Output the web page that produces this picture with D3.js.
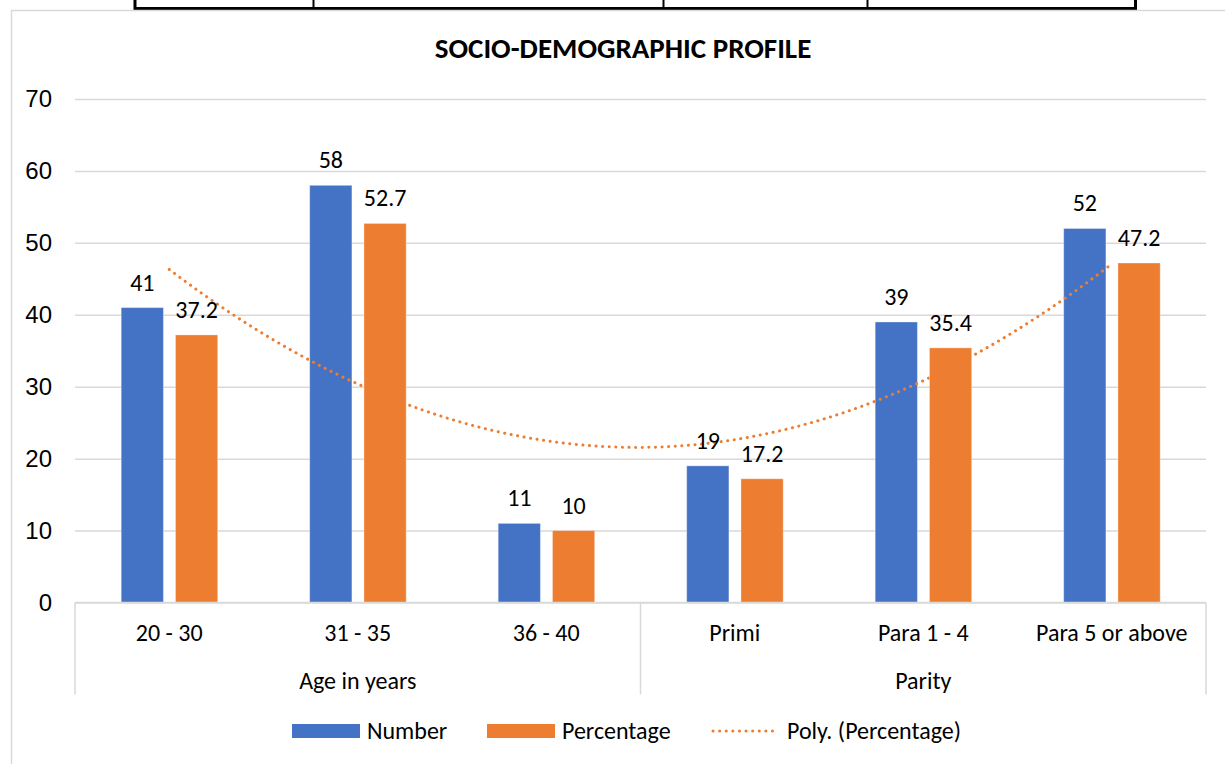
<!DOCTYPE html>
<html>
<head>
<meta charset="utf-8">
<script src="https://cdn.jsdelivr.net/npm/d3@7"></script>
<style>
  body { margin: 0; background: #fff; }
  svg { display: block; font-family: Carlito, Lato, "Open Sans", sans-serif; }
</style>
</head>
<body>
<div id="chart"></div>
<script>
var title = "SOCIO-DEMOGRAPHIC PROFILE";
var categories = ["20 - 30", "31 - 35", "36 - 40", "Primi", "Para 1 - 4", "Para 5 or above"];
var groups = [{name: "Age in years", size: 3}, {name: "Parity", size: 3}];
var seriesNames = ["Number", "Percentage"];
var numberValues = [41, 58, 11, 19, 39, 52];
var percentValues = [37.2, 52.7, 10, 17.2, 35.4, 47.2];
var yTicks = [0, 10, 20, 30, 40, 50, 60, 70];
var colors = {Number: "#4472c4", Percentage: "#ed7d31"};

var width = 1225, height = 764;
var margin = {top: 99, right: 19, bottom: 161, left: 75};
var fs = 24;

var svg = d3.select("#chart").append("svg")
    .attr("width", width)
    .attr("height", height);

// document table border peeking above the chart
var tbl = svg.append("g").attr("stroke", "#000").attr("fill", "none");
tbl.append("path").attr("d", "M135,0V8.5H1135.5V0").attr("stroke-width", 3);
[313.5, 663.5, 867.5].forEach(x => tbl.append("line")
    .attr("x1", x).attr("x2", x).attr("y1", 0).attr("y2", 8).attr("stroke-width", 2));

// chart area frame
svg.append("path")
    .attr("d", "M11.5," + height + "V10.5H" + width)
    .attr("fill", "none").attr("stroke", "#d9d9d9").attr("stroke-width", 1.5);

svg.append("text")
    .attr("x", 623).attr("y", 58)
    .attr("text-anchor", "middle")
    .attr("font-size", 29).attr("font-weight", "bold")
    .text(title);

var y = d3.scaleLinear([0, 70], [height - margin.bottom - 0.5, margin.top]);
var x0 = d3.scaleBand(categories, [margin.left, width - margin.right]);
var bw = x0.bandwidth();
var x1 = d3.scaleBand(seriesNames, [bw * 0.245, bw * 0.757]).paddingInner(0.222);

// grid + y labels
var yAxis = svg.append("g")
    .attr("transform", `translate(${margin.left},0)`)
    .call(d3.axisLeft(y).tickValues(yTicks).tickSize(-(width - margin.left - margin.right)).tickPadding(23));
yAxis.select(".domain").remove();
yAxis.selectAll(".tick line").attr("stroke", "#d9d9d9").attr("stroke-width", 1.5);
yAxis.selectAll(".tick text").attr("font-size", fs).attr("fill", "#000").attr("font-family", null);

var rows = categories.map((c, i) => ({cat: c, Number: numberValues[i], Percentage: percentValues[i]}));

function drawBars(key) {
  svg.append("g").selectAll("rect")
    .data(rows)
    .join("rect")
    .attr("x", d => x0(d.cat) + x1(key))
    .attr("width", x1.bandwidth())
    .attr("y", d => y(d[key]))
    .attr("height", d => y(0) - y(d[key]))
    .attr("fill", colors[key])
    .attr("stroke", "#fff").attr("stroke-opacity", 0.35).attr("stroke-width", 1);
}

drawBars("Number");

// polynomial (order 2) trendline for Percentage, least squares fit
function polyFit(ys) {
  var S = [0, 0, 0, 0, 0], T = [0, 0, 0];
  ys.forEach((v, i) => {
    var xv = i + 1;
    for (var k = 0; k < 5; k++) S[k] += Math.pow(xv, k);
    for (var k = 0; k < 3; k++) T[k] += v * Math.pow(xv, k);
  });
  var A = [[S[0], S[1], S[2], T[0]], [S[1], S[2], S[3], T[1]], [S[2], S[3], S[4], T[2]]];
  for (var i = 0; i < 3; i++) {
    for (var j = i + 1; j < 3; j++) {
      var f = A[j][i] / A[i][i];
      for (var k = i; k < 4; k++) A[j][k] -= f * A[i][k];
    }
  }
  var c = [0, 0, 0];
  for (var i = 2; i >= 0; i--) {
    var s = A[i][3];
    for (var k = i + 1; k < 3; k++) s -= A[i][k] * c[k];
    c[i] = s / A[i][i];
  }
  return xv => c[0] + c[1] * xv + c[2] * xv * xv;
}
var trend = polyFit(percentValues);
var xCat = d3.scaleLinear([1, categories.length],
    [x0(categories[0]) + bw / 2, x0(categories[categories.length - 1]) + bw / 2]);
var trendPts = d3.range(1, categories.length + 0.001, 0.05).map(t => [t, trend(t)]);
svg.append("path")
    .datum(trendPts)
    .attr("d", d3.line(d => xCat(d[0]), d => y(d[1])).curve(d3.curveBasis))
    .attr("fill", "none")
    .attr("stroke", colors.Percentage)
    .attr("stroke-width", 3)
    .attr("stroke-linecap", "round")
    .attr("stroke-dasharray", "0.1 6.5");

drawBars("Percentage");

// data labels
seriesNames.forEach(key => {
  svg.append("g").selectAll("text")
    .data(rows)
    .join("text")
    .attr("x", d => x0(d.cat) + x1(key) + x1.bandwidth() / 2)
    .attr("y", d => y(d[key]) - 17)
    .attr("text-anchor", "middle")
    .attr("font-size", fs)
    .text(d => d[key]);
});

// category axis
var axisY = y(0);
svg.append("line")
    .attr("x1", margin.left).attr("x2", width - margin.right)
    .attr("y1", axisY).attr("y2", axisY)
    .attr("stroke", "#d9d9d9").attr("stroke-width", 1.5);

svg.append("g").selectAll("text")
    .data(categories)
    .join("text")
    .attr("x", d => x0(d) + bw / 2)
    .attr("y", axisY + 38)
    .attr("text-anchor", "middle")
    .attr("font-size", fs)
    .text(d => d);

var start = 0;
var bounds = [x0(categories[0])];
groups.forEach(g => {
  var a = x0(categories[start]);
  var b = x0(categories[start + g.size - 1]) + bw;
  svg.append("text")
    .attr("x", (a + b) / 2).attr("y", axisY + 86)
    .attr("text-anchor", "middle").attr("font-size", fs)
    .text(g.name);
  bounds.push(b);
  start += g.size;
});
svg.append("g").selectAll("line")
    .data(bounds)
    .join("line")
    .attr("x1", d => d).attr("x2", d => d)
    .attr("y1", axisY).attr("y2", axisY + 92)
    .attr("stroke", "#d9d9d9").attr("stroke-width", 1.5);

// legend
var leg = svg.append("g").attr("font-size", fs);
leg.append("rect").attr("x", 292).attr("y", 724).attr("width", 68).attr("height", 14).attr("fill", colors.Number);
leg.append("text").attr("x", 367).attr("y", 739).text("Number");
leg.append("rect").attr("x", 487).attr("y", 724).attr("width", 68).attr("height", 14).attr("fill", colors.Percentage);
leg.append("text").attr("x", 562).attr("y", 739).text("Percentage");
leg.append("line").attr("x1", 713).attr("x2", 773).attr("y1", 731).attr("y2", 731)
    .attr("stroke", colors.Percentage).attr("stroke-width", 3)
    .attr("stroke-linecap", "round").attr("stroke-dasharray", "0.1 6.5");
leg.append("text").attr("x", 787).attr("y", 739).text("Poly. (Percentage)");
</script>
</body>
</html>
